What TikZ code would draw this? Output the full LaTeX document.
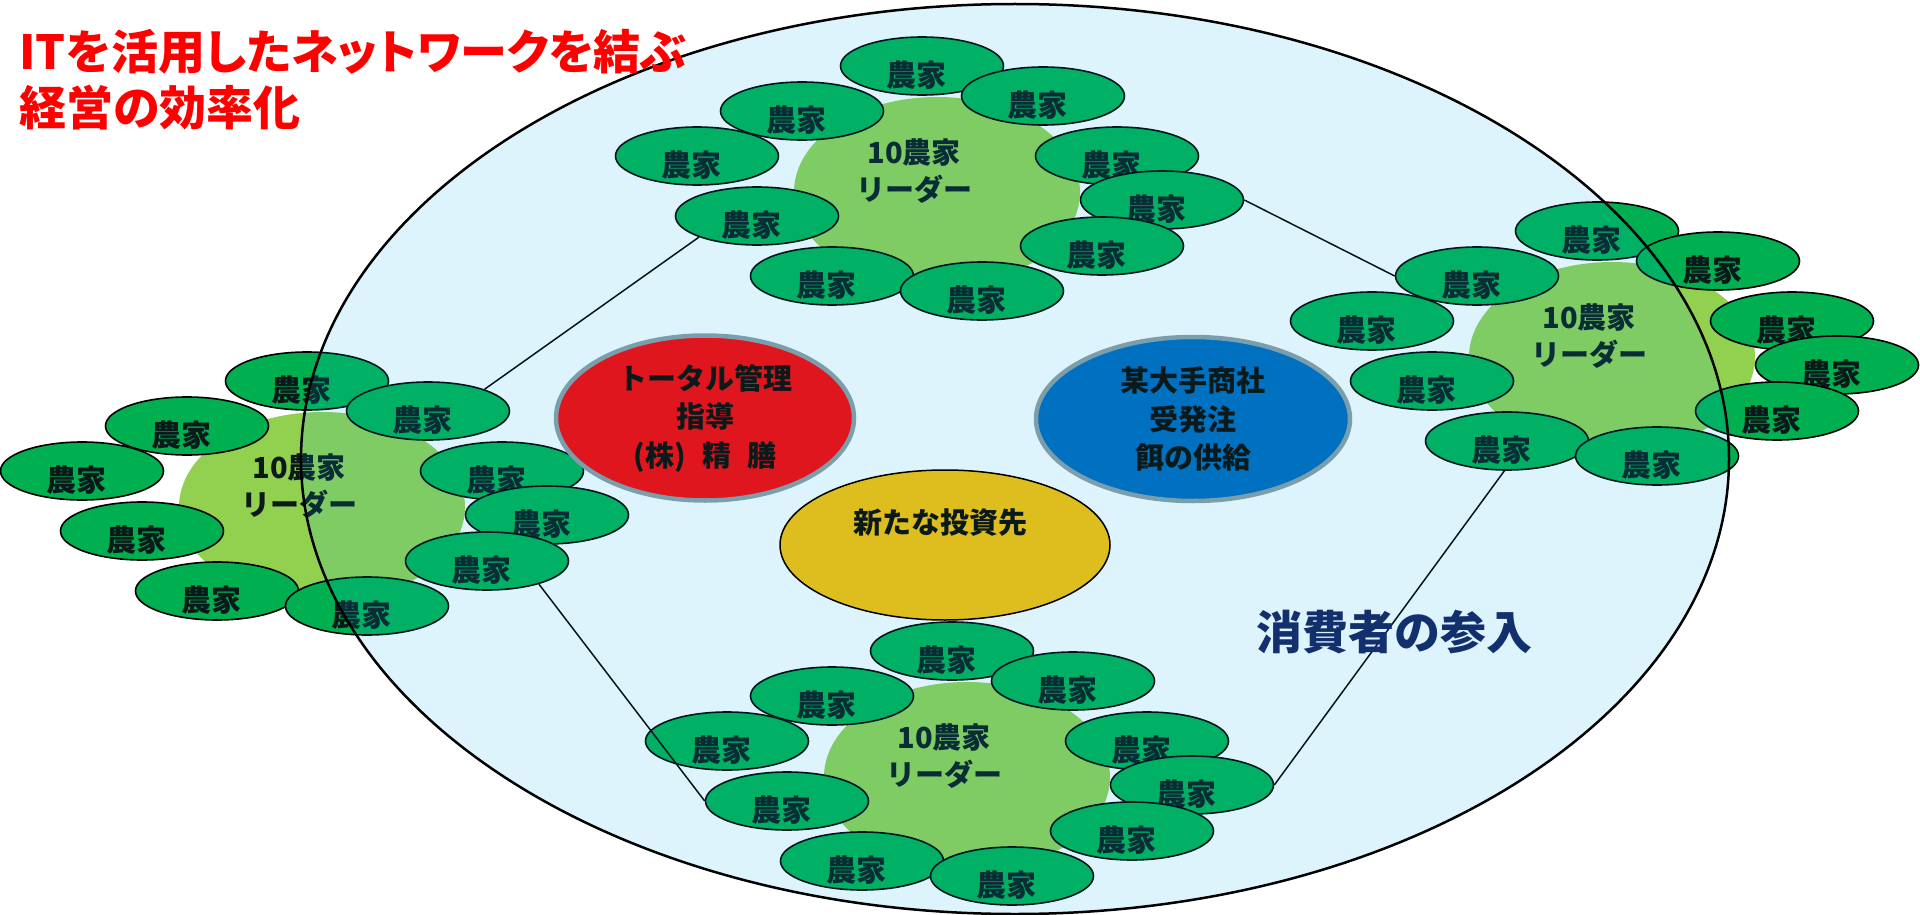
\documentclass[tikz,border=0pt]{standalone}
\usepackage{fontspec}
\newfontfamily\jp{Noto Sans CJK JP}
\newfontfamily\jpp[RawFeature=+palt]{Noto Sans CJK JP}
\usetikzlibrary{shapes.geometric,calc}
\definecolor{farmgreen}{HTML}{00B050}
\definecolor{leadgreen}{HTML}{92D050}
\definecolor{skyblue}{HTML}{00B0F0}
\definecolor{redfill}{HTML}{E0161F}
\definecolor{bluefill}{HTML}{0070C0}
\definecolor{yellowfill}{HTML}{DEBD1F}
\definecolor{rimgray}{HTML}{7A9EAC}
\definecolor{navytext}{HTML}{13306E}
\definecolor{textdark}{HTML}{0A1A1A}
\newcommand\farmcluster[3]{%
  \node[leader] (#1L) at (#2,#3) {};
  \node[farmer] (#1f4) at ($(#1L)+(-240,-36)$) {};
  \node[farmer] (#1f3) at ($(#1L)+(-135,-81)$) {};
  \node[farmer] (#1f1) at ($(#1L)+(-15,-126)$) {};
  \node[farmer] (#1f2) at ($(#1L)+(106,-96)$) {};
  \node[farmer] (#1f5) at ($(#1L)+(180,-36)$) {};
  \node[farmer] (#1f6) at ($(#1L)+(225,8)$) {};
  \node[farmer] (#1f8) at ($(#1L)+(165,54)$) {};
  \node[farmer] (#1f7) at ($(#1L)+(-180,24)$) {};
  \node[farmer] (#1f9) at ($(#1L)+(-105,84)$) {};
  \node[farmer] (#1f10) at ($(#1L)+(45,99)$) {};
}
\begin{document}
\begin{tikzpicture}[x=1pt,y=-1pt,
  farmer/.style={ellipse, draw=black, line width=1.6pt, fill=farmgreen,
    minimum width=163pt, minimum height=58pt, inner sep=0pt,
    label={[font=\jp\bfseries\fontsize{30pt}{36pt}\selectfont, text=textdark, xshift=-6pt, yshift=-9pt]center:農家}},
  leader/.style={ellipse, fill=leadgreen, minimum width=286pt, minimum height=190pt, inner sep=0pt,
    label={[align=center, font=\jp\bfseries\fontsize{29pt}{37pt}\selectfont, text=textdark, xshift=-23pt, yshift=21pt]center:10農家\\リーダー}},
  link/.style={draw=black, line width=1.5pt},
  hub/.style={ellipse, draw=rimgray, line width=4.5pt, inner sep=0pt, align=center,
    font=\jp\bfseries\fontsize{29pt}{38.5pt}\selectfont, text=textdark}
]
\useasboundingbox (0,0) rectangle (1920,915);
\fill[white] (0,0) rectangle (1920,915);

\farmcluster{T}{937}{192}
\farmcluster{Lc}{322}{507}
\farmcluster{B}{967}{777}
\farmcluster{R}{1612}{357}

\draw[link] (Lcf2.21) -- (Tf7.200);
\draw[link] (Tf6.east) -- (Rf3.west);
\draw[link] (Lcf8.-24) -- (Bf7.west);
\draw[link] (Bf6.east) -- (Rf9.265);

\draw[line width=2.5pt, fill=skyblue, fill opacity=0.13] (1015,459) ellipse [x radius=714, y radius=455];

\node[hub, fill=redfill, minimum width=298pt, minimum height=165pt] (mgmt) at (705,418) {トータル管理\\指導\\(株)\hspace{0.55em}精\hspace{0.55em}膳};
\node[hub, fill=bluefill, minimum width=314pt, minimum height=164pt] (trade) at (1193,419) {某大手商社\\受発注\\餌の供給};
\node[ellipse, draw=black, line width=1.5pt, fill=yellowfill, minimum width=330pt, minimum height=150pt, inner sep=0pt,
  label={[font=\jp\bfseries\fontsize{29pt}{36pt}\selectfont, text=textdark, xshift=-5pt, yshift=22pt]center:新たな投資先}] (invest) at (945,545) {};

\node[font=\jp\bfseries\fontsize{46pt}{56pt}\selectfont, text=navytext] (consumer) at (1394,632) {消費者の参入};

\node[anchor=west, align=left, text=red, font=\jpp\bfseries\fontsize{47pt}{56pt}\selectfont] (title) at (16,80) {ITを活用したネットワークを結ぶ\\経営の効率化};
\end{tikzpicture}
\end{document}
